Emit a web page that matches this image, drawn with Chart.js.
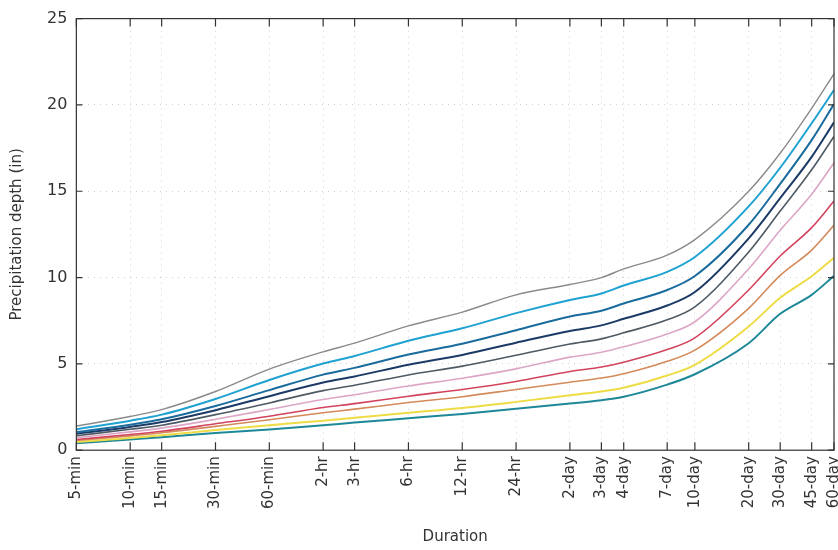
<!DOCTYPE html>
<html>
<head>
<meta charset="utf-8">
<script src="https://cdn.jsdelivr.net/npm/chart.js@4/dist/chart.umd.min.js"></script>
<style>
  html, body { margin: 0; padding: 0; background: #fff; }
  #wrap { width: 838px; height: 550px; }
</style>
</head>
<body>
<div id="wrap"><canvas id="depthChart"></canvas></div>
<script>
// ==========================
// Data
// ==========================
const durationLabels = ["5-min", "10-min", "15-min", "30-min", "60-min", "2-hr", "3-hr", "6-hr", "12-hr", "24-hr",
  "2-day", "3-day", "4-day", "7-day", "10-day", "20-day", "30-day", "45-day", "60-day"];
const durationMinutes = [5, 10, 15, 30, 60, 120, 180, 360, 720, 1440,
  2880, 4320, 5760, 10080, 14400, 28800, 43200, 64800, 86400];

// depth in inches, top curve first
const depth1000yr = [1.40, 1.95, 2.35, 3.40, 4.70, 5.70, 6.20, 7.20, 8.00, 9.00, 9.60, 10.00, 10.50, 11.30, 12.20, 15.00, 17.20, 19.80, 21.80];
const depth500yr  = [1.22, 1.71, 2.06, 2.97, 4.07, 5.02, 5.46, 6.34, 7.06, 7.94, 8.70, 9.08, 9.54, 10.33, 11.19, 14.12, 16.36, 18.94, 20.86];
const depth200yr  = [1.05, 1.48, 1.79, 2.56, 3.48, 4.38, 4.77, 5.54, 6.17, 6.95, 7.74, 8.08, 8.50, 9.28, 10.09, 13.06, 15.43, 17.96, 20.05];
const depth100yr  = [0.95, 1.35, 1.63, 2.32, 3.13, 3.92, 4.27, 4.95, 5.52, 6.23, 6.91, 7.23, 7.61, 8.38, 9.16, 12.27, 14.60, 16.99, 18.99];
const depth50yr   = [0.84, 1.21, 1.45, 2.06, 2.74, 3.45, 3.76, 4.36, 4.87, 5.50, 6.15, 6.45, 6.80, 7.55, 8.30, 11.48, 13.85, 16.24, 18.17];
const depth25yr   = [0.73, 1.06, 1.28, 1.79, 2.36, 2.94, 3.21, 3.72, 4.17, 4.71, 5.39, 5.67, 5.99, 6.73, 7.44, 10.51, 12.74, 14.83, 16.65];
const depth10yr   = [0.62, 0.91, 1.10, 1.53, 1.97, 2.47, 2.70, 3.13, 3.52, 3.98, 4.56, 4.82, 5.10, 5.83, 6.51, 9.28, 11.25, 12.89, 14.43];
const depth5yr    = [0.56, 0.83, 1.01, 1.38, 1.76, 2.17, 2.38, 2.76, 3.10, 3.52, 3.94, 4.18, 4.43, 5.15, 5.80, 8.22, 10.13, 11.59, 13.03];
const depth2yr    = [0.47, 0.71, 0.86, 1.17, 1.45, 1.71, 1.88, 2.17, 2.45, 2.80, 3.18, 3.40, 3.62, 4.33, 4.95, 7.17, 8.83, 10.08, 11.15];
const depth1yr    = [0.40, 0.62, 0.75, 1.00, 1.20, 1.45, 1.60, 1.85, 2.10, 2.40, 2.70, 2.90, 3.10, 3.80, 4.40, 6.20, 7.90, 9.00, 10.10];

const yTicks = [0, 5, 10, 15, 20, 25];

const seriesList = [
  { label: "1000-yr", data: depth1000yr, color: "#8a8a8a", width: 1.4 },
  { label: "500-yr",  data: depth500yr,  color: "#1fa2d2", width: 2 },
  { label: "200-yr",  data: depth200yr,  color: "#1a6c9e", width: 2 },
  { label: "100-yr",  data: depth100yr,  color: "#1c3a66", width: 2 },
  { label: "50-yr",   data: depth50yr,   color: "#4e5a64", width: 1.6 },
  { label: "25-yr",   data: depth25yr,   color: "#dca6c6", width: 1.6 },
  { label: "10-yr",   data: depth10yr,   color: "#d2445e", width: 1.6 },
  { label: "5-yr",    data: depth5yr,    color: "#d48a5a", width: 1.6 },
  { label: "2-yr",    data: depth2yr,    color: "#eedc46", width: 2 },
  { label: "1-yr",    data: depth1yr,    color: "#1f8898", width: 2 }
];

// ==========================
// Frame + inward tick marks
// ==========================
const frameAndTicks = {
  id: "frameAndTicks",
  afterDraw(chart) {
    const { ctx, chartArea: a, scales } = chart;
    ctx.save();
    ctx.strokeStyle = "#333";
    ctx.lineWidth = 1.2;
    ctx.strokeRect(a.left, a.top, a.right - a.left, a.bottom - a.top);
    ctx.beginPath();
    durationMinutes.forEach(v => {
      const x = scales.x.getPixelForValue(v);
      ctx.moveTo(x, a.bottom); ctx.lineTo(x, a.bottom - 8);
      ctx.moveTo(x, a.top); ctx.lineTo(x, a.top + 8);
    });
    yTicks.forEach(v => {
      const y = scales.y.getPixelForValue(v);
      ctx.moveTo(a.left, y); ctx.lineTo(a.left + 6, y);
      ctx.moveTo(a.right, y); ctx.lineTo(a.right - 6, y);
    });
    ctx.stroke();
    ctx.restore();
  }
};

Chart.defaults.font.family = "'DejaVu Sans', sans-serif";
Chart.defaults.color = "#333";

const ctx = document.getElementById("depthChart").getContext("2d");
new Chart(ctx, {
  type: "line",
  data: {
    datasets: seriesList.map(s => ({
      label: s.label,
      data: s.data.map((d, i) => ({ x: durationMinutes[i], y: d })),
      borderColor: s.color,
      borderWidth: s.width,
      pointRadius: 0,
      fill: false,
      cubicInterpolationMode: "monotone"
    }))
  },
  options: {
    responsive: true,
    maintainAspectRatio: false,
    animation: false,
    layout: { padding: { left: 8, top: 9, right: 4, bottom: 2 } },
    plugins: {
      legend: { display: false },
      tooltip: { enabled: false }
    },
    scales: {
      x: {
        type: "logarithmic",
        min: 5,
        max: 86400,
        afterBuildTicks: scale => {
          scale.ticks = durationMinutes.map(v => ({ value: v }));
        },
        afterFit: scale => {
          scale.paddingRight = 0;
        },
        ticks: {
          autoSkip: false,
          minRotation: 90,
          maxRotation: 90,
          padding: 6,
          font: { size: 15 },
          callback: value => {
            const i = durationMinutes.indexOf(value);
            return i >= 0 ? durationLabels[i] : "";
          }
        },
        grid: { color: "rgba(0,0,0,0.18)", borderDash: [1, 5], drawTicks: false },
        border: { display: false, dash: [1, 5] },
        title: { display: true, text: "Duration", font: { size: 15 }, padding: { top: 13, bottom: 2 } }
      },
      y: {
        min: 0,
        max: 25,
        afterBuildTicks: scale => {
          scale.ticks = yTicks.map(v => ({ value: v }));
        },
        ticks: { padding: 9, font: { size: 16 } },
        grid: { color: "rgba(0,0,0,0.18)", drawTicks: false },
        border: { display: false, dash: [1, 5] },
        title: { display: true, text: "Precipitation depth (in)", font: { size: 15 }, padding: { top: 0, bottom: 12 } }
      }
    }
  },
  plugins: [frameAndTicks]
});
</script>
</body>
</html>
